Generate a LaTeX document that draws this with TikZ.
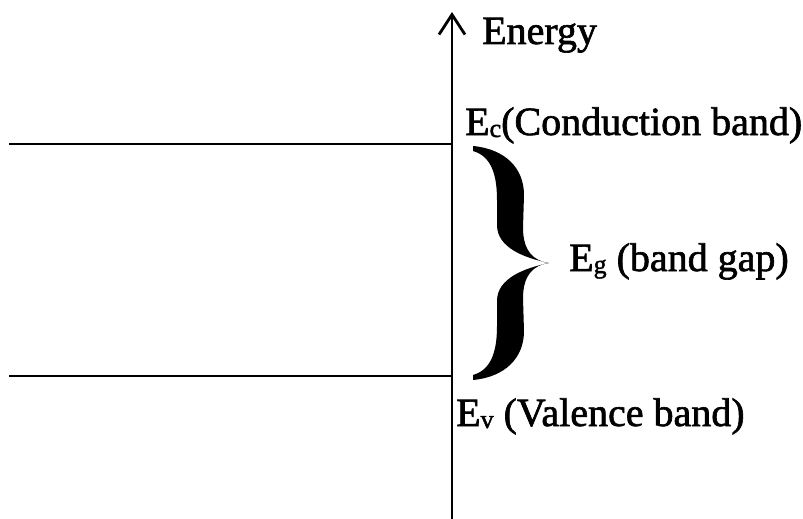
\documentclass[tikz,border=0pt]{standalone}
\usepackage{fontspec}
\setmainfont{Liberation Serif}[RawFeature={embolden=1.6}]
\usetikzlibrary{arrows.meta}
\tikzset{
  lbl/.style={inner sep=0pt, anchor=base west, font=\fontsize{40}{42}\selectfont},
  band/.style={line width=1.2pt},
  axis/.style={line width=1.3pt, -{Straight Barb[length=20pt,width=26pt,line width=2.8pt]}},
  bracefill/.style={fill=black}
}
\newcommand{\sub}[1]{\raisebox{-2pt}{\fontsize{26}{26}\selectfont #1}}
\begin{document}
\begin{tikzpicture}[x=1pt,y=-1pt]
\useasboundingbox (0,0) rectangle (803,519);
\coordinate (axb) at (452,519);
\coordinate (axt) at (452,12);
\coordinate (c0) at (9,144);
\coordinate (c1) at (452,144);
\coordinate (v0) at (9,376);
\coordinate (v1) at (452,376);
\draw[axis] (axb) -- (axt);
\draw[band] (c0) -- (c1);
\draw[band] (v0) -- (v1);
\node[lbl] (energy) at (482,44) {Energy};
\node[lbl] (ec) at (465,135) {E\sub{c}(Conduction band)};
\node[lbl] (eg) at (569,271) {E\sub{g} (band gap)};
\node[lbl] (ev) at (456,426) {E\sub{v} (Valence band)};
% brace
\fill[bracefill] (473,146) .. controls (505,149) and (524,168) .. (524,195)
  -- (523,228) .. controls (523,250) and (533,261) .. (549,263)
  .. controls (525,258) and (497,248) .. (497,225)
  -- (497,200) .. controls (497,172) and (490,156) .. (473,151) -- cycle;
\fill[bracefill] (473,380) .. controls (505,377) and (524,358) .. (524,331)
  -- (523,298) .. controls (523,276) and (533,265) .. (549,263)
  .. controls (525,268) and (497,278) .. (497,301)
  -- (497,326) .. controls (497,354) and (490,370) .. (473,375) -- cycle;
\end{tikzpicture}
\end{document}
